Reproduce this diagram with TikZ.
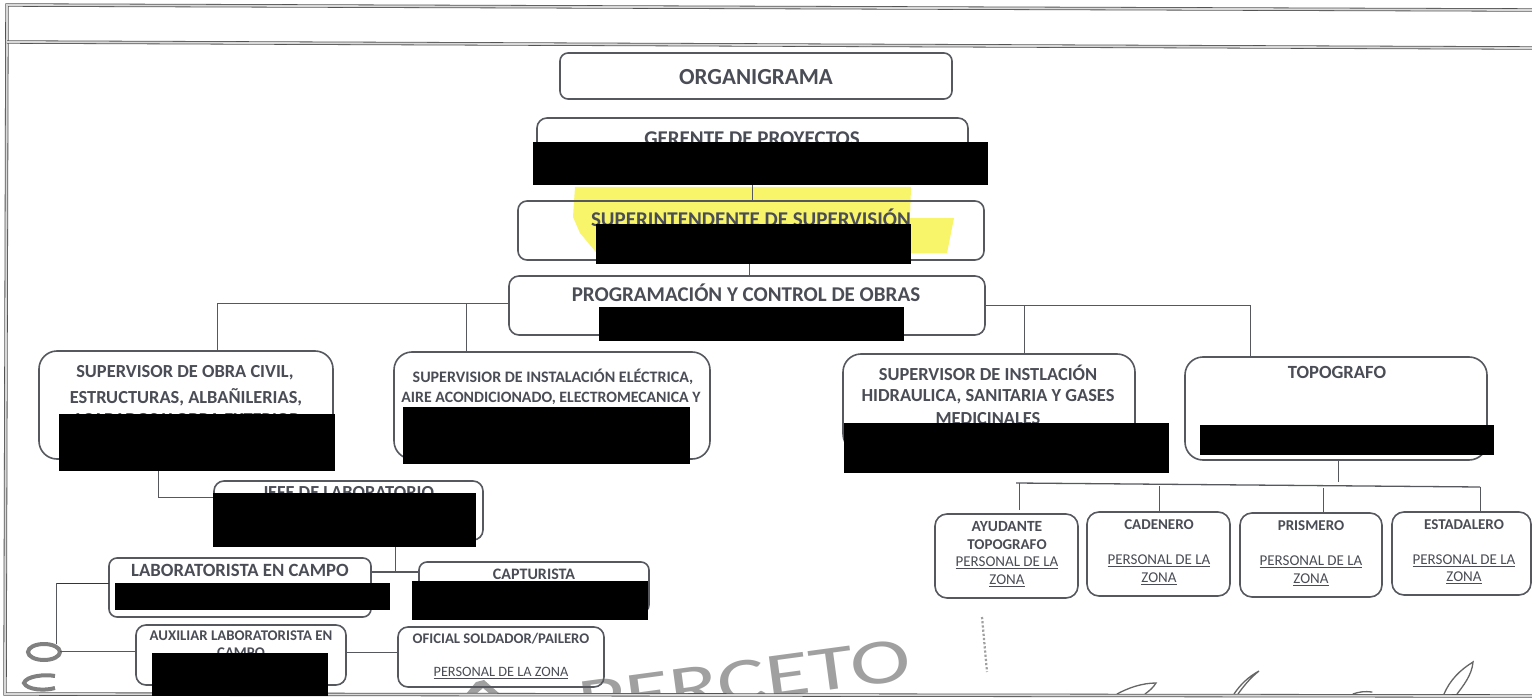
\documentclass[tikz,border=0pt]{standalone}
\usepackage{fontspec}
\setmainfont{Carlito}
\definecolor{ink}{HTML}{4A4D55}
\definecolor{edge}{HTML}{55585E}
\definecolor{hl}{HTML}{F8F56A}
\definecolor{stamp}{HTML}{A0A0A0}
\tikzset{
  box/.style={draw=edge,line width=1.6pt,rounded corners=#1,inner sep=0pt},
  box/.default=9pt,
  head/.style={font=\bfseries\fontsize{#1}{#1}\selectfont,text=ink,inner sep=0pt,align=center},
  plain/.style={font=\fontsize{#1}{#1}\selectfont,text=ink,inner sep=0pt,align=center},
  redact/.style={fill=black,draw=none},
  conn/.style={draw=edge,line width=0.9pt},
  frameline/.style={draw=gray!65!black,line width=0.8pt,double=gray!30,double distance=1.8pt},
  pen/.style={draw=gray!80!black,line width=1.3pt,line cap=round},
  stampring/.style={draw=gray,line width=4pt}
}
\newcommand{\bx}[6][9pt]{% name x0 y0 x1 y1
  \path[box=#1] (#3,#4) rectangle (#5,#6);
  \coordinate (#2) at ({(#3+#5)/2},{(#4+#6)/2});
  \coordinate (#2-w) at (#3,{(#4+#6)/2});
  \coordinate (#2-e) at (#5,{(#4+#6)/2});
  \coordinate (#2-n) at ({(#3+#5)/2},#4);
  \coordinate (#2-s) at ({(#3+#5)/2},#6);
}
\begin{document}
\begin{tikzpicture}[x=1pt,y=-1pt]
\useasboundingbox (0,0) rectangle (1532,698);
\fill[white] (0,0) rectangle (1532,698);
\begin{scope}
\clip (0,0) rectangle (1532,698);
% stamp remains, cut at the frame
\begin{scope}
\clip (0,0) rectangle (1532,693);
\node[font=\fontsize{64}{64}\selectfont,text=stamp,rotate=7.7,inner sep=0pt] (stampword) at (745,681) {\scalebox{1.42}[1]{PERCETO}};
\fill[stamp] (466,694) -- (476,682) -- (484,680) -- (500,694) -- (490,694) -- (483,688) -- (476,694) -- cycle;
\draw[pen] (1117,694) .. controls (1128,688) and (1142,683) .. (1156,683) .. controls (1153,688) and (1149,691) .. (1145,694);
\draw[pen] (1234,694) .. controls (1240,685) and (1248,677) .. (1259,671) .. controls (1250,678) and (1243,687) .. (1238,694);
\draw[pen] (1353,694) .. controls (1358,692) and (1365,691) .. (1372,692);
\draw[pen] (1444,694) .. controls (1450,680) and (1460,670) .. (1473,662) .. controls (1472,675) and (1463,686) .. (1457,694);
\end{scope}
\draw[stamp,line width=2.2pt,dotted] (982,617) -- (987,672);
\draw[stampring] (44,652) ellipse [x radius=16, y radius=8];
\draw[stampring] (55,676) .. controls (45,674) and (26,676) .. (24,683) .. controls (27,690) and (45,691) .. (55,688);
% frame
\draw[frameline] (1532,10) -- (7,5) -- (5,694) -- (1532,696);
\draw[frameline] (7,42) -- (1532,48);
% highlight
\fill[hl] (575,187) -- (911,187) -- (910,218) -- (954,218) -- (947,253) -- (600,257) -- (580,233) -- (573,217) -- cycle;
% boxes
\bx[9pt]{sup}{518}{201}{984}{260}
\bx[8pt]{org}{560}{53}{952}{99}
\bx[10pt]{ger}{537}{118}{968}{184}
\bx[10pt]{prog}{509}{276}{985}{335}
\bx[18pt]{obra}{39}{351}{333}{459}
\bx[18pt]{elec}{394}{352}{710}{459}
\bx[18pt]{inst}{843}{354}{1135}{452}
\bx[18pt]{topo}{1185}{357}{1487}{460}
\bx[10pt]{jefe}{214}{481}{483}{540}
\bx[8pt]{lab}{109}{558}{371}{617}
\bx[8pt]{capt}{419}{562}{649}{613}
\bx[10pt]{aux}{136}{625}{346}{685}
\bx[10pt]{ofi}{398}{627}{604}{687}
\bx[12pt]{ayu}{935}{514}{1078}{598}
\bx[12pt]{cad}{1087}{512}{1230}{596}
\bx[12pt]{pri}{1240}{513}{1382}{597}
\bx[12pt]{est}{1392}{512}{1531}{595}
% junctions
\coordinate (js) at (752,201);
\coordinate (jp) at (749,260);
\coordinate (jl) at (217,303);
\coordinate (jm) at (466,303);
\coordinate (jr) at (1250,305);
\coordinate (jq) at (1024,305);
\coordinate (jj) at (158,497);
\coordinate (jc) at (395,572);
\coordinate (jv) at (56,583);
\coordinate (jw) at (56,644);
\coordinate (ja) at (60,651);
\coordinate (jo) at (372,652);
\coordinate (jt) at (1338,482);
\coordinate (hl1) at (1016,483);
\coordinate (hl2) at (1480,487);
\coordinate (d1) at (1019,483);
\coordinate (d1e) at (1019,510);
\coordinate (d2) at (1159,486);
\coordinate (d3) at (1323,488);
% connectors
\draw[conn] (ger-s -| js) -- (js);
\draw[conn] (jp) -- (prog-n -| jp);
\draw[conn] (prog-w |- jl) -- (jl) -- (obra-n -| jl);
\draw[conn] (jm) -- (elec-n -| jm);
\draw[conn] (prog-e |- jr) -- (jr) -- (topo-n -| jr);
\draw[conn] (jq) -- (inst-n -| jq);
\draw[conn] (obra-s -| jj) -- (jj) -- (jefe-w |- jj);
\draw[conn] (jefe-s -| jc) -- (jc);
\draw[conn,line width=1.3pt] (lab-e |- jc) -- (capt-w |- jc);
\draw[conn,draw=teal!60!black] (lab-w |- jv) -- (jv);
\draw[conn] (jv) -- (jw);
\draw[conn] (ja) -- (aux-w |- ja);
\draw[conn] (aux-e |- jo) -- (ofi-w |- jo);
\draw[conn] (topo-s -| jt) -- (jt);
\draw[conn,line width=1.3pt] (hl1) -- (hl2);
\draw[conn] (d1) -- (d1e);
\draw[conn] (d2) -- (cad-n -| d2);
\draw[conn] (d3) -- (pri-n -| d3);
\draw[conn] (hl2) -- (est-n -| hl2);
% texts
\node[head=23] (t1) at (756,77) {ORGANIGRAMA};
\node[head=21] (t2) at (752,139) {GERENTE DE PROYECTOS};
\node[head=21] (t3) at (751,218) {SUPERINTENDENTE DE SUPERVISIÓN};
\node[head=21] (t4) at (746,293) {PROGRAMACIÓN Y CONTROL DE OBRAS};
\node[head=18.4] (t5) at (185,373) {SUPERVISOR DE OBRA CIVIL,};
\node[head=18.4] (t5b) at (186,397) {ESTRUCTURAS, ALBAÑILERIAS,};
\node[head=18.4] (t5c) at (186,420) {ACABADOS Y OBRA EXTERIOR};
\node[head=16] (t6) at (553,377) {SUPERVISIOR DE INSTALACIÓN ELÉCTRICA,};
\node[head=15.8] (t6b) at (551,398) {AIRE ACONDICIONADO, ELECTROMECANICA Y};
\node[head=18.4] (t7) at (988,373) {SUPERVISOR DE INSTLACIÓN};
\node[head=18.4] (t7b) at (988,397) {HIDRAULICA, SANITARIA Y GASES};
\node[head=18.4] (t7c) at (988,419) {MEDICINALES};
\node[head=18.6] (t8) at (1337,372) {TOPOGRAFO};
\node[head=18.4] (t9) at (348,493) {JEFE DE LABORATORIO};
\node[head=18.7] (t10) at (240,570) {LABORATORISTA EN CAMPO};
\node[head=16] (t11) at (534,574) {CAPTURISTA};
\node[head=14.8] (t12) at (241,636) {AUXILIAR LABORATORISTA EN};
\node[head=14.8] (t12b) at (241,653) {CAMPO};
\node[head=14.7] (t13) at (501,639) {OFICIAL SOLDADOR/PAILERO};
\node[plain=14.3] (t13b) at (501,673) {\underline{PERSONAL DE LA ZONA}};
\node[head=15.5] (t14) at (1007,527) {AYUDANTE};
\node[head=15] (t14b) at (1007,545) {TOPOGRAFO};
\node[plain=15] (t14c) at (1007,563) {\underline{PERSONAL DE LA}};
\node[plain=15] (t14d) at (1007,581) {\underline{ZONA}};
\node[head=15] (t15) at (1159,525) {CADENERO};
\node[plain=15] (t15c) at (1159,561) {\underline{PERSONAL DE LA}};
\node[plain=15] (t15d) at (1159,579) {\underline{ZONA}};
\node[head=15] (t16) at (1311,526) {PRISMERO};
\node[plain=15] (t16c) at (1311,562) {\underline{PERSONAL DE LA}};
\node[plain=15] (t16d) at (1311,580) {\underline{ZONA}};
\node[head=15] (t17) at (1464,525) {ESTADALERO};
\node[plain=15] (t17c) at (1464,561) {\underline{PERSONAL DE LA}};
\node[plain=15] (t17d) at (1464,578) {\underline{ZONA}};
% redactions
\fill[redact] (533,142) rectangle (988,185);
\fill[redact] (596,224) rectangle (911,264);
\fill[redact] (599,307) rectangle (904,341);
\fill[redact] (59,414) rectangle (335,471);
\fill[redact] (403,407) rectangle (690,464);
\fill[redact] (844,423) rectangle (1169,473);
\fill[redact] (1200,425) rectangle (1494,455);
\fill[redact] (213,493) rectangle (476,547);
\fill[redact] (115,583) rectangle (390,610);
\fill[redact] (412,581) rectangle (648,620);
\fill[redact] (152,653) rectangle (328,696);
\end{scope}
\end{tikzpicture}
\end{document}
